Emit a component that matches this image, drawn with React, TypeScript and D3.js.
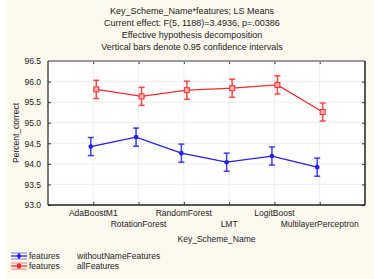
import { useEffect, useRef } from 'react';
import * as d3 from 'd3';

const categories = ['AdaBoostM1', 'RotationForest', 'RandomForest', 'LMT', 'LogitBoost', 'MultilayerPerceptron'];
const withoutName = [94.42, 94.65, 94.26, 94.04, 94.19, 93.92];
const allFeatures = [95.81, 95.64, 95.79, 95.84, 95.92, 95.26];
const ciHalf = 0.22;
const yTicks = [93.0, 93.5, 94.0, 94.5, 95.0, 95.5, 96.0, 96.5];
const titles = [
  'Key_Scheme_Name*features; LS Means',
  'Current effect: F(5, 1188)=3.4936, p=.00386',
  'Effective hypothesis decomposition',
  'Vertical bars denote 0.95 confidence intervals',
];
const seriesNames = ['withoutNameFeatures', 'allFeatures'];

const W = 374;
const H = 279;
const FONT = 'Liberation Sans, Arial, sans-serif';

export default function App() {
  const ref = useRef<SVGSVGElement>(null);

  useEffect(() => {
    if (!ref.current) return;
    const svg = d3.select(ref.current);
    svg.selectAll('*').remove();

    const left = 48, right = 365, top = 61, bottom = 205;
    const x = d3.scaleLinear().domain([0, 7]).range([left, right]);
    const y = d3.scaleLinear().domain([93, 96.5]).range([bottom, top]);

    svg.append('rect').attr('x', 6).attr('y', 0).attr('width', W - 6).attr('height', H).attr('fill', '#fdf9ee');
    svg.append('rect').attr('x', left).attr('y', top).attr('width', right - left).attr('height', bottom - top).attr('fill', '#fff');

    // titles
    svg.selectAll('.title').data(titles).join('text')
      .attr('x', 192).attr('y', (_, i) => 14 + i * 12)
      .attr('text-anchor', 'middle').style('font-family', FONT).style('font-size', '9px').attr('fill', '#222')
      .text((d) => d);

    // grid
    const g = svg.append('g');
    g.selectAll('.hg').data(yTicks.slice(1, -1)).join('line')
      .attr('x1', left).attr('x2', right).attr('y1', (d) => y(d)).attr('y2', (d) => y(d))
      .attr('stroke', '#eeeeee').attr('stroke-width', 1);
    g.selectAll('.vg').data(categories).join('line')
      .attr('x1', (_, i) => x(i + 1)).attr('x2', (_, i) => x(i + 1)).attr('y1', top).attr('y2', bottom)
      .attr('stroke', '#eeeeee').attr('stroke-width', 1);

    // axes
    const yAxis = svg.append('g').attr('transform', `translate(${left},0)`)
      .call(d3.axisLeft(y).tickValues(yTicks).tickFormat(d3.format('.1f')).tickSize(-3).tickPadding(7));
    yAxis.select('.domain').remove();
    yAxis.selectAll('text').style('font-family', FONT).style('font-size', '8.5px').attr('fill', '#222');
    yAxis.selectAll('line').attr('stroke', '#333');

    const yAxisR = svg.append('g').attr('transform', `translate(${right},0)`)
      .call(d3.axisRight(y).tickValues(yTicks).tickSize(-3).tickFormat(() => ''));
    yAxisR.select('.domain').remove();
    yAxisR.selectAll('line').attr('stroke', '#333');

    const ticksX = d3.range(1, 7);
    const xAxis = svg.append('g').attr('transform', `translate(0,${bottom})`)
      .call(d3.axisBottom(x).tickValues(ticksX).tickSize(-3).tickFormat(() => ''));
    xAxis.select('.domain').remove();
    xAxis.selectAll('line').attr('stroke', '#333');
    const xAxisT = svg.append('g').attr('transform', `translate(0,${top})`)
      .call(d3.axisTop(x).tickValues(ticksX).tickSize(-3).tickFormat(() => ''));
    xAxisT.select('.domain').remove();
    xAxisT.selectAll('line').attr('stroke', '#333');

    // frame
    svg.append('line').attr('x1', left).attr('x2', right).attr('y1', top).attr('y2', top).attr('stroke', '#999').attr('stroke-width', 2);
    svg.append('line').attr('x1', left).attr('x2', left).attr('y1', top).attr('y2', bottom).attr('stroke', '#222').attr('stroke-width', 1.2);
    svg.append('line').attr('x1', right).attr('x2', right).attr('y1', top).attr('y2', bottom).attr('stroke', '#222').attr('stroke-width', 1.5);
    svg.append('line').attr('x1', left).attr('x2', right).attr('y1', bottom).attr('y2', bottom).attr('stroke', '#222').attr('stroke-width', 1.5);

    // category labels (staggered)
    svg.selectAll('.cat').data(categories).join('text')
      .attr('x', (_, i) => x(i + 1)).attr('y', (_, i) => (i % 2 === 0 ? 216 : 227))
      .attr('text-anchor', 'middle').style('font-family', FONT).style('font-size', '8.5px').attr('fill', '#222')
      .text((d) => d);

    svg.append('text').attr('x', (left + right) / 2 + 10).attr('y', 242).attr('text-anchor', 'middle')
      .style('font-family', FONT).style('font-size', '8.5px').attr('fill', '#222').text('Key_Scheme_Name');

    svg.append('text').attr('transform', `translate(19,${(top + bottom) / 2}) rotate(-90)`).attr('text-anchor', 'middle')
      .style('font-family', FONT).style('font-size', '8.5px').attr('fill', '#222').text('Percent_correct');

    const series = [
      { values: withoutName, color: '#1f1fff', dx: -2.5, marker: 'circle' },
      { values: allFeatures, color: '#ff2b2b', dx: 3, marker: 'square' },
    ];

    series.forEach((s) => {
      const sg = svg.append('g');
      const line = d3.line<number>().x((_, i) => x(i + 1) + s.dx).y((d) => y(d));
      sg.append('path').attr('d', line(s.values)).attr('fill', 'none').attr('stroke', s.color).attr('stroke-width', 1.3);
      s.values.forEach((v, i) => {
        const cx = x(i + 1) + s.dx;
        const y1 = y(v + ciHalf), y2 = y(v - ciHalf);
        sg.append('line').attr('x1', cx).attr('x2', cx).attr('y1', y1).attr('y2', y2).attr('stroke', s.color).attr('stroke-width', 1.5).attr('opacity', 0.85);
        [y1, y2].forEach((yy) => sg.append('line').attr('x1', cx - 3).attr('x2', cx + 3).attr('y1', yy).attr('y2', yy).attr('stroke', s.color).attr('stroke-width', 1.5).attr('opacity', 0.85));
        if (s.marker === 'circle') {
          sg.append('circle').attr('cx', cx).attr('cy', y(v)).attr('r', 2.3).attr('fill', s.color);
        } else {
          sg.append('rect').attr('x', cx - 2.5).attr('y', y(v) - 2.5).attr('width', 5).attr('height', 5)
            .attr('fill', '#ffb0b0').attr('stroke', s.color).attr('stroke-width', 1);
        }
      });
    });

    // legend
    series.forEach((s, i) => {
      const ly = 256 + i * 10;
      const lg = svg.append('g');
      lg.append('line').attr('x1', 11).attr('x2', 27).attr('y1', ly).attr('y2', ly).attr('stroke', s.color).attr('stroke-width', 1.3);
      [-3, 3].forEach((o) => lg.append('line').attr('x1', 11).attr('x2', 27).attr('y1', ly + o).attr('y2', ly + o).attr('stroke', s.color).attr('stroke-width', 1).attr('opacity', 0.6));
      lg.append('line').attr('x1', 19).attr('x2', 19).attr('y1', ly - 3).attr('y2', ly + 3).attr('stroke', s.color).attr('stroke-width', 1.2);
      if (s.marker === 'circle') lg.append('circle').attr('cx', 19).attr('cy', ly).attr('r', 2).attr('fill', s.color);
      else lg.append('rect').attr('x', 17).attr('y', ly - 2).attr('width', 4).attr('height', 4).attr('fill', s.color);
      lg.append('text').attr('x', 29).attr('y', ly + 3).style('font-family', FONT).style('font-size', '8.5px').attr('fill', '#222').text('features');
      lg.append('text').attr('x', 77).attr('y', ly + 3).style('font-family', FONT).style('font-size', '8.5px').attr('fill', '#222').text(seriesNames[i]);
    });
  }, []);

  return <svg ref={ref} width={W} height={H} style={{ display: 'block', position: 'absolute', left: 0, top: 0 }} />;
}
